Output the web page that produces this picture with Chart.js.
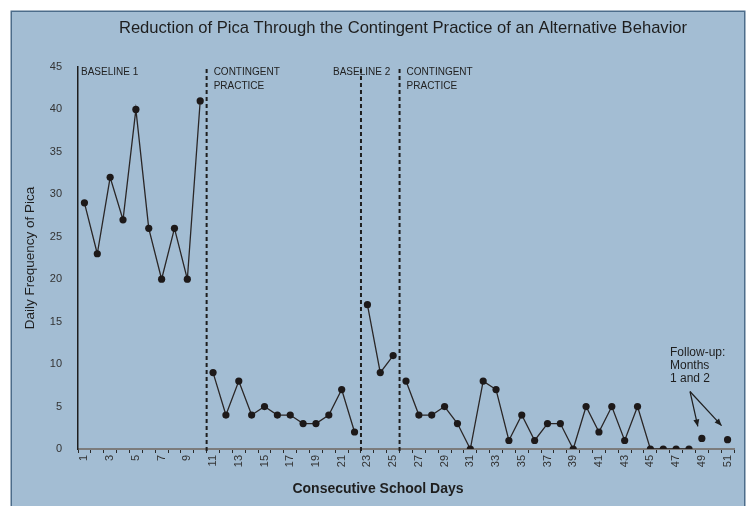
<!DOCTYPE html>
<html>
<head>
<meta charset="utf-8">
<script src="https://cdn.jsdelivr.net/npm/chart.js@4/dist/chart.umd.min.js"></script>
<style>
html,body{margin:0;padding:0;background:#fff;}
#wrap{position:absolute;left:0;top:0;width:748px;height:506px;}
</style>
</head>
<body>
<div id="wrap"><canvas id="c" width="748" height="506"></canvas></div>
<script>
// ---- data ----
const dayLabels = ['1','2','3','4','5','6','7','8','9','10','11','12','13','14','15','16','17','18','19','20',
  '21','22','23','24','25','26','27','28','29','30','31','32','33','34','35','36','37','38','39','40',
  '41','42','43','44','45','46','47','48','49','50','51'];
const phaseStartDays = [1, 11, 23, 26];
const phaseLabels = [['BASELINE 1'], ['CONTINGENT', 'PRACTICE'], ['BASELINE 2'], ['CONTINGENT', 'PRACTICE']];
const baseline1 = [29, 23, 32, 27, 40, 26, 20, 26, 20, 41];
const contingent1 = [9, 4, 8, 4, 5, 4, 4, 3, 3, 4, 7, 2];
const baseline2 = [17, 9, 11];
const contingent2 = [8, 4, 4, 5, 3, 0, 8, 7, 1, 4, 1, 3, 3, 0, 5, 2, 5, 1, 5, 0, 0, 0, 0];
const followUpDays = [49, 51];
const followUp = [1.25, 1.1];
const followUpNote = ['Follow-up:', 'Months', '1 and 2'];
const yTickMin = 0, yTickMax = 45, yTickStep = 5;
const titleText = 'Reduction of Pica Through the Contingent Practice of an Alternative Behavior';
const xTitle = 'Consecutive School Days';
const yTitle = 'Daily Frequency of Pica';

// ---- build series on the day axis ----
function place(startDay, values) {
  const arr = dayLabels.map(() => null);
  values.forEach((v, i) => { arr[startDay - 1 + i] = v; });
  return arr;
}
function placeAt(daysList, values) {
  const arr = dayLabels.map(() => null);
  daysList.forEach((d, i) => { arr[d - 1] = values[i]; });
  return arr;
}
const phaseValues = [baseline1, contingent1, baseline2, contingent2];

const lineColor = '#2a2626';
const dotColor = '#1d1919';
function phaseDataset(name, data, showLine) {
  return {
    label: name, data: data, showLine: showLine, spanGaps: false,
    borderColor: lineColor, borderWidth: 1.3, tension: 0,
    pointRadius: 3.6, pointBackgroundColor: dotColor, pointBorderColor: dotColor, pointBorderWidth: 0,
    pointHoverRadius: 3.6
  };
}
const datasets = phaseValues.map((vals, i) => phaseDataset('phase' + (i + 1), place(phaseStartDays[i], vals), true));
datasets.push(phaseDataset('follow-up', placeAt(followUpDays, followUp), false));

const FONT = '"Liberation Sans", Arial, sans-serif';

const decor = {
  id: 'decor',
  beforeDraw(chart) {
    const ctx = chart.ctx;
    ctx.save();
    ctx.fillStyle = '#ffffff';
    ctx.fillRect(0, 0, chart.width, chart.height);
    ctx.fillStyle = '#a3bdd3';
    ctx.fillRect(11, 11, 734, 520);
    ctx.strokeStyle = '#4c6c8a';
    ctx.lineWidth = 1.5;
    ctx.strokeRect(11.25, 11.25, 733.5, 530);
    ctx.restore();
  },
  beforeDatasetsDraw(chart) {
    const ctx = chart.ctx;
    const xs = chart.scales.x, ca = chart.chartArea;
    ctx.save();
    ctx.strokeStyle = '#1e1e1e';
    ctx.lineWidth = 2;
    ctx.setLineDash([4, 3]);
    phaseStartDays.slice(1).forEach(d => {
      const x = (xs.getPixelForValue(d - 2) + xs.getPixelForValue(d - 1)) / 2;
      ctx.beginPath();
      ctx.moveTo(x, ca.top + 2);
      ctx.lineTo(x, ca.bottom + 4);
      ctx.stroke();
    });
    ctx.restore();
  },
  afterDraw(chart) {
    const ctx = chart.ctx;
    const xs = chart.scales.x, ys = chart.scales.y, ca = chart.chartArea;
    ctx.save();
    // title
    ctx.fillStyle = '#1e1e1e';
    ctx.font = '16.6px ' + FONT;
    ctx.textAlign = 'center';
    ctx.textBaseline = 'middle';
    ctx.fillText(titleText, 403, 28);
    // x title
    ctx.font = 'bold 14px ' + FONT;
    ctx.fillText(xTitle, 378, 489);
    // y title
    ctx.save();
    ctx.translate(30, (ca.top + ca.bottom) / 2);
    ctx.rotate(-Math.PI / 2);
    ctx.font = '13.5px ' + FONT;
    ctx.fillText(yTitle, 0, 0);
    ctx.restore();
    // phase labels
    ctx.font = '10px ' + FONT;
    ctx.fillStyle = '#222';
    ctx.textAlign = 'left';
    ctx.textBaseline = 'middle';
    const offsets = [3, 7, -28, 7];
    phaseStartDays.forEach((d, i) => {
      let x0;
      if (i === 0) x0 = ca.left;
      else x0 = (xs.getPixelForValue(d - 2) + xs.getPixelForValue(d - 1)) / 2;
      phaseLabels[i].forEach((t, j) => {
        ctx.fillText(t, x0 + offsets[i], 72 + j * 14);
      });
    });
    // follow-up note
    ctx.font = '12px ' + FONT;
    ctx.fillStyle = '#1e1e1e';
    followUpNote.forEach((t, j) => ctx.fillText(t, 670, 353 + j * 12.8));
    // arrows
    const sx = 690, sy = 391.5;
    const tipOff = [[-4, -12], [-6, -14]];
    followUpDays.forEach((d, i) => {
      const px = xs.getPixelForValue(d - 1) + tipOff[i][0];
      const py = ys.getPixelForValue(followUp[i]) + tipOff[i][1];
      ctx.strokeStyle = '#1e1e1e';
      ctx.lineWidth = 1.2;
      ctx.beginPath();
      ctx.moveTo(sx, sy);
      ctx.lineTo(px, py);
      ctx.stroke();
      const ang = Math.atan2(py - sy, px - sx);
      const L = 7, W = 3;
      ctx.beginPath();
      ctx.moveTo(px, py);
      ctx.lineTo(px - L * Math.cos(ang) + W * Math.sin(ang), py - L * Math.sin(ang) - W * Math.cos(ang));
      ctx.lineTo(px - L * Math.cos(ang) - W * Math.sin(ang), py - L * Math.sin(ang) + W * Math.cos(ang));
      ctx.closePath();
      ctx.fillStyle = '#1e1e1e';
      ctx.fill();
    });
    ctx.restore();
  }
};

new Chart(document.getElementById('c'), {
  type: 'line',
  data: { labels: dayLabels, datasets: datasets },
  options: {
    responsive: false,
    animation: false,
    layout: { padding: { top: 67, right: 14, left: 0, bottom: 0 } },
    plugins: { legend: { display: false }, tooltip: { enabled: false }, title: { display: false } },
    scales: {
      x: {
        type: 'category',
        offset: true,
        grid: { display: true, drawOnChartArea: false, drawTicks: true, tickLength: 4, color: '#2a2a2a', lineWidth: 1, offset: true },
        border: { display: true, color: '#7c7c7c', width: 2 },
        ticks: {
          autoSkip: false, maxRotation: 90, minRotation: 90, padding: 2,
          color: '#333', font: { family: FONT, size: 11 },
          callback: (v, i) => (i % 2 === 0 ? dayLabels[i] : '')
        },
        afterFit: s => { s.height = 57; }
      },
      y: {
        min: yTickMin, max: yTickMax,
        grid: { display: false },
        border: { display: true, color: '#1e1e1e', width: 1.5 },
        ticks: { stepSize: yTickStep, padding: 8, color: '#333', font: { family: FONT, size: 11 } },
        afterFit: s => { s.width = 78; }
      }
    }
  },
  plugins: [decor]
});
</script>
</body>
</html>
